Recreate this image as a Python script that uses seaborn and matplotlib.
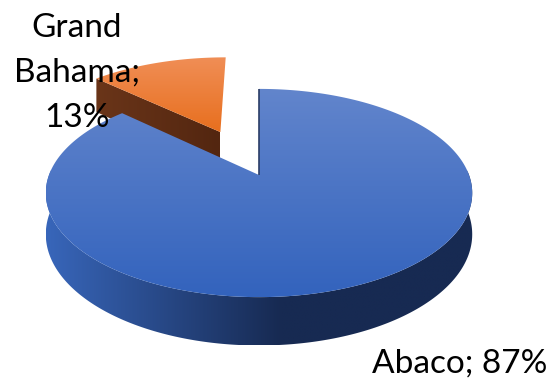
import numpy as np
import matplotlib
matplotlib.use('Agg')
import matplotlib.pyplot as plt
import seaborn as sns
from matplotlib.patches import Polygon
from matplotlib.colors import LinearSegmentedColormap

# data
labels = ["Abaco", "Grand Bahama"]
values = [87, 13]
explode = [0.0, 0.5]

# colours (top face: light -> dark, side wall: left -> right)
top_colors = [("#6285cc", "#3363bd"), ("#f08e56", "#e86f1e")]
wall_colors = [("#3866ba", "#172a52"), ("#6a3519", "#532610")]

# fake perspective for the 3d pie (pixel space)
CX, CY = 259, 175
S, SM, K = 210, 101, 0.173
T = 40


def project(u, v, drop=0.0):
    w = 1 + K * v
    return CX + S * u / w, CY - SM * v / w + drop * T / w


def grad_fill(ax, xy, c0, c1, z, horizontal=False, stop=1.0):
    patch = Polygon(xy, closed=True, facecolor='none', edgecolor='none')
    ax.add_patch(patch)
    x0, y0 = xy.min(axis=0)
    x1, y1 = xy.max(axis=0)
    cmap = LinearSegmentedColormap.from_list('g', [(0, c0), (stop, c1), (1, c1)])
    g = np.linspace(0, 1, 256)
    g = g.reshape(1, -1) if horizontal else g.reshape(-1, 1)
    im = ax.imshow(g, cmap=cmap, extent=(x0, x1, y1, y0), origin='upper',
                   aspect='auto', interpolation='bilinear', zorder=z)
    im.set_clip_path(patch)


sns.set_theme(style="white")
plt.rcParams['font.family'] = ['Lato', 'DejaVu Sans']

fig = plt.figure(figsize=(5.53, 3.78), dpi=100)
ax = fig.add_axes([0, 0, 1, 1])

fr = np.array(values, dtype=float) / sum(values)
ends = 90 - 360 * np.cumsum(fr)
starts = ends + 360 * fr
mids = (starts + ends) / 2

# back slices first
order = np.argsort(-np.sin(np.radians(mids)))
z = 1
for i in order:
    a0, a1 = starts[i], ends[i]
    du = explode[i] * np.cos(np.radians(mids[i]))
    dv = explode[i] * np.sin(np.radians(mids[i]))
    th = np.radians(np.linspace(a0, a1, int(abs(a0 - a1)) * 2 + 2))
    u = du + np.cos(th)
    v = dv + np.sin(th)

    # outer wall, front part only
    front = np.sin(th) < 0.05
    if front.any():
        tx, ty = project(u[front], v[front])
        bx, by = project(u[front], v[front], 1.0)
        xy = np.column_stack([np.r_[tx, bx[::-1]], np.r_[ty, by[::-1]]])
        grad_fill(ax, xy, wall_colors[i][0], wall_colors[i][1], z,
                  horizontal=True, stop=0.55)
        z += 1

    # radial walls
    for ang, nrm in ((a0, a0 + 90), (a1, a1 - 90)):
        nu, nv = np.cos(np.radians(nrm)), np.sin(np.radians(nrm))
        ou = du + np.cos(np.radians(ang))
        ov = dv + np.sin(np.radians(ang))
        if nv < -0.05:
            pu = np.array([du, ou, ou, du])
            pv = np.array([dv, ov, ov, dv])
            px, py = project(pu, pv, np.array([0, 0, 1, 1]))
            grad_fill(ax, np.column_stack([px, py]), wall_colors[i][0],
                      wall_colors[i][1], z, horizontal=True)
            z += 1
        elif nu < -0.5:
            px, py = project(np.array([du, ou]), np.array([dv, ov]))
            ax.plot(px, py, color="#2b3d66", lw=1.2, zorder=z + 2,
                    solid_capstyle='butt')

    # top face
    tx, ty = project(np.r_[du, u], np.r_[dv, v])
    grad_fill(ax, np.column_stack([tx, ty]), top_colors[i][0], top_colors[i][1], z)
    z += 3

# data labels
ax.text(372, 373, f"{labels[0]}; {values[0]}%", ha='left', va='baseline',
        fontsize=24, color='black', zorder=z)
ax.text(77, 13, f"{labels[1].replace(' ', chr(10))};\n{values[1]}%",
        ha='center', va='top', fontsize=24, linespacing=1.62,
        color='black', zorder=z)

ax.set_xlim(0, 553)
ax.set_ylim(378, 0)
ax.axis('off')

fig.savefig("out.png", dpi=100, facecolor='white')
